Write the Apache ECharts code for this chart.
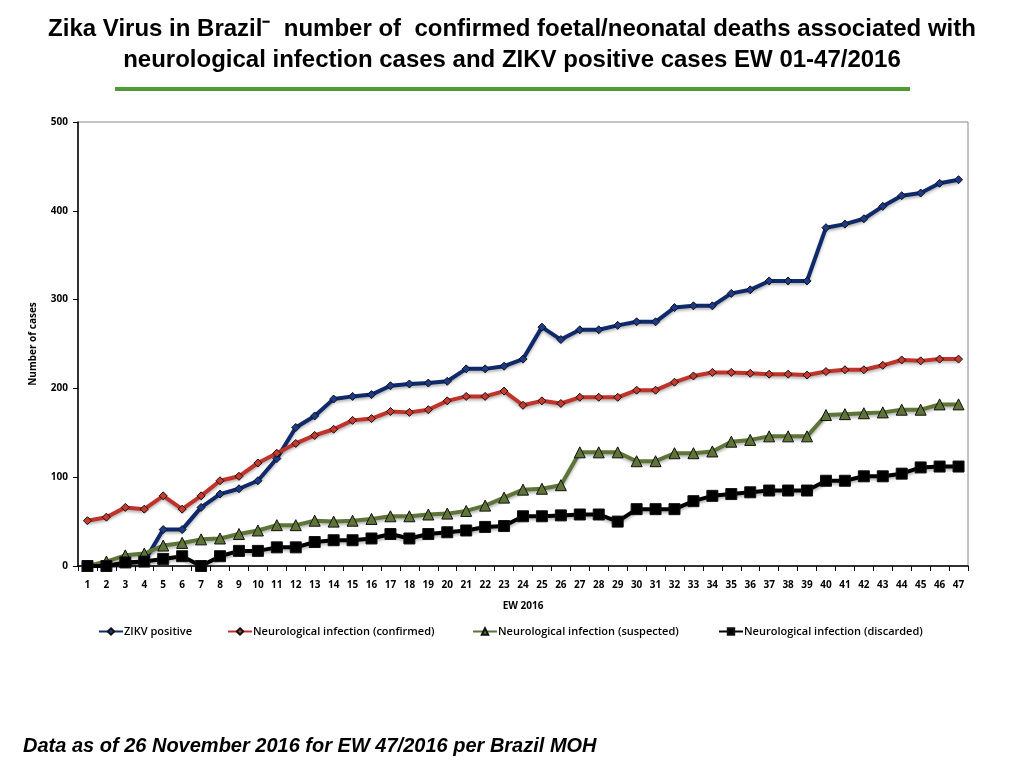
<!DOCTYPE html>
<html>
<head>
<meta charset="utf-8">
<title>Zika Virus in Brazil</title>
<script src="https://cdn.jsdelivr.net/npm/echarts@6/dist/echarts.min.js"></script>
<style>
  html, body { margin: 0; padding: 0; background: #fff; }
  #main { width: 1024px; height: 768px; }
</style>
</head>
<body>
<div id="main"></div>
<script>
// epidemiological weeks 1..47
var weeks = ['1','2','3','4','5','6','7','8','9','10','11','12','13','14','15','16','17','18','19','20',
  '21','22','23','24','25','26','27','28','29','30','31','32','33','34','35','36','37','38','39','40',
  '41','42','43','44','45','46','47']

var zikvPositive = [0, 0, 3, 5, 41, 41, 66, 81, 87, 96, 121, 156, 169, 188, 191, 193, 203, 205, 206, 208,
  222, 222, 225, 233, 269, 255, 266, 266, 271, 275, 275, 291, 293, 293, 307, 311, 321, 321, 321, 381,
  385, 391, 405, 417, 420, 431, 435]

var neuroConfirmed = [51, 55, 66, 64, 79, 64, 79, 96, 101, 116, 127, 138, 147, 154, 164, 166, 174, 173, 176, 186,
  191, 191, 197, 181, 186, 183, 190, 190, 190, 198, 198, 207, 214, 218, 218, 217, 216, 216, 215, 219,
  221, 221, 226, 232, 231, 233, 233]

var neuroSuspected = [0, 5, 12, 14, 23, 26, 30, 31, 36, 40, 46, 46, 51, 50, 51, 53, 56, 56, 58, 59,
  62, 68, 77, 86, 87, 91, 128, 128, 128, 118, 118, 127, 127, 129, 140, 142, 146, 146, 146, 170,
  171, 172, 173, 176, 176, 182, 182]

var neuroDiscarded = [0, 0, 4, 5, 8, 11, 0, 11, 17, 17, 21, 21, 27, 29, 29, 31, 36, 31, 36, 38,
  40, 44, 45, 56, 56, 57, 58, 58, 50, 64, 64, 64, 73, 79, 81, 83, 85, 85, 85, 96,
  96, 101, 101, 104, 111, 112, 112]

var seriesNames = ['ZIKV positive', 'Neurological infection (confirmed)',
  'Neurological infection (suspected)', 'Neurological infection (discarded)']

var legendLeft = [93, 222, 467, 713]

var tickFont = "'Liberation Sans Narrow', 'Open Sans', sans-serif"

var myChart = echarts.init(document.getElementById('main'))

function lineSeries(name, data, color, symbol, size, fill) {
  return {
    name: name,
    type: 'line',
    data: data,
    symbol: symbol,
    symbolSize: size,
    showAllSymbol: true,
    lineStyle: {
      width: 4,
      color: color,
      shadowColor: 'rgba(0,0,0,0.3)',
      shadowBlur: 3,
      shadowOffsetY: 2
    },
    itemStyle: { color: fill, borderColor: '#111', borderWidth: 1 },
    emphasis: { disabled: true },
    animation: false
  }
}

// one legend per series so each item sits where it does in the original
var legends = seriesNames.map(function (n, i) {
  return {
    data: [n],
    left: legendLeft[i],
    top: 621,
    itemWidth: 24,
    itemHeight: 8,
    textStyle: { fontFamily: tickFont, fontSize: 11, fontWeight: 600, color: '#000', padding: [0, 0, 0, -4] }
  }
})

var option = {
  backgroundColor: '#fff',
  title: {
    text: 'Zika Virus in Brazil\u207B  number of  confirmed foetal/neonatal deaths associated with\nneurological infection cases and ZIKV positive cases EW 01-47/2016',
    left: 'center',
    top: 9,
    textStyle: {
      fontFamily: "'Liberation Sans', Arial, sans-serif",
      fontSize: 24,
      fontWeight: 'bold',
      color: '#000',
      lineHeight: 31
    }
  },
  graphic: [
    {
      type: 'rect',
      shape: { x: 115, y: 87, width: 795, height: 4 },
      style: { fill: '#4f9a36' }
    },
    {
      type: 'text',
      left: 23,
      top: 736,
      style: {
        text: 'Data as of 26 November 2016 for EW 47/2016 per Brazil MOH',
        font: "italic bold 20px 'Liberation Sans', Arial, sans-serif",
        fill: '#000'
      }
    }
  ],
  legend: legends,
  grid: {
    left: 78,
    right: 56,
    top: 122,
    bottom: 202,
    show: true,
    borderColor: '#888',
    borderWidth: 1
  },
  xAxis: {
    type: 'category',
    data: weeks,
    boundaryGap: true,
    name: 'EW 2016',
    nameLocation: 'middle',
    nameGap: 35,
    nameTextStyle: { fontFamily: tickFont, fontSize: 10, fontWeight: 'bold', color: '#000' },
    axisLine: { lineStyle: { color: '#000', width: 1.5 } },
    axisTick: { show: true, length: 5, lineStyle: { color: '#000' } },
    axisLabel: { interval: 0, margin: 14, fontFamily: tickFont, fontSize: 10, fontWeight: 'bold', color: '#000' },
    splitLine: { show: false }
  },
  yAxis: {
    type: 'value',
    min: 0,
    max: 500,
    interval: 100,
    name: 'Number of cases',
    nameLocation: 'middle',
    nameGap: 40,
    nameTextStyle: { fontFamily: tickFont, fontSize: 10, fontWeight: 'bold', color: '#000' },
    axisLine: { show: true, lineStyle: { color: '#000', width: 1.5 } },
    axisTick: { show: true, length: 5, lineStyle: { color: '#000' } },
    axisLabel: { margin: 10, fontFamily: tickFont, fontSize: 10, fontWeight: 'bold', color: '#000' },
    splitLine: { show: false }
  },
  series: [
    lineSeries(seriesNames[0], zikvPositive, '#10296b', 'diamond', 8, '#1b3a8a'),
    lineSeries(seriesNames[1], neuroConfirmed, '#c0332a', 'diamond', 8, '#c8392e'),
    lineSeries(seriesNames[2], neuroSuspected, '#5e7537', 'triangle', 11, '#5e7537'),
    lineSeries(seriesNames[3], neuroDiscarded, '#000', 'rect', 11, '#000')
  ]
}

myChart.setOption(option)
</script>
</body>
</html>
